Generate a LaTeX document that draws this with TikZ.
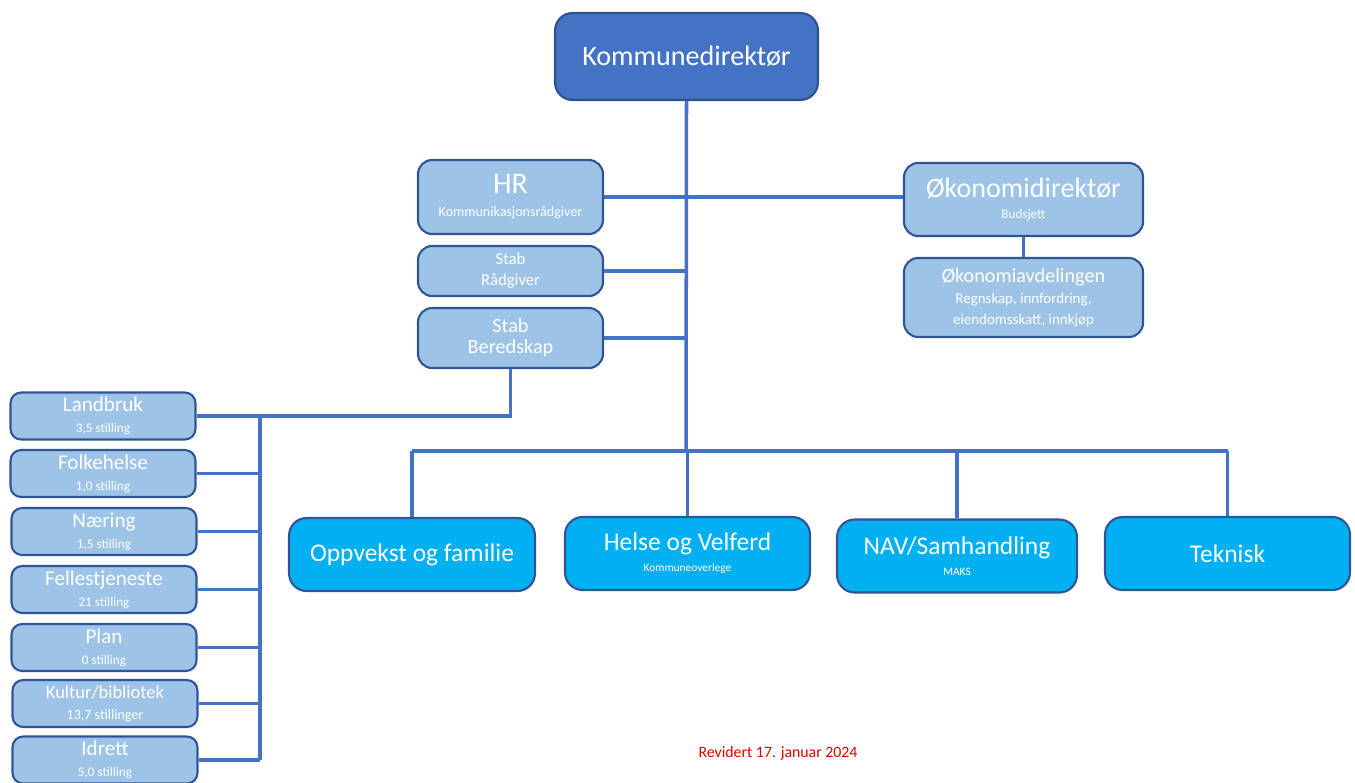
\documentclass[tikz,border=0pt]{standalone}
\usepackage{fontspec}
\setmainfont{Carlito}
\usepackage{tikz}
\usetikzlibrary{positioning}
\usetikzlibrary{calc}
\definecolor{kdblue}{HTML}{4472C4}
\definecolor{kdedge}{HTML}{2F528F}
\definecolor{lysblue}{HTML}{9DC3E6}
\definecolor{sektorblue}{HTML}{00B0F0}
\definecolor{kantblue}{HTML}{2F5597}
\definecolor{revred}{RGB}{220,0,0}
\tikzstyle{topbox}=[rectangle,draw=kdedge,line width=1.2pt,rounded corners=10pt,fill=kdblue,text=white,align=center,inner sep=2pt]
\tikzstyle{stabbox}=[rectangle,draw=kantblue,line width=1.2pt,rounded corners=8pt,fill=lysblue,text=white,align=center,inner sep=2pt]
\tikzstyle{avdbox}=[rectangle,draw=kantblue,line width=1.2pt,rounded corners=6pt,fill=lysblue,text=white,align=center,inner sep=1pt,minimum width=3.7cm,minimum height=0.94cm]
\tikzstyle{sektorbox}=[rectangle,draw=kantblue,line width=1.2pt,rounded corners=10pt,fill=sektorblue,text=white,align=center,inner sep=2pt,minimum height=1.46cm]
\tikzstyle{forb}=[draw=kdblue,line width=2pt]
\newcommand{\fs}[2]{{\fontsize{#1}{1.15\dimexpr#1pt\relax}\selectfont #2}}

\begin{document}
\begin{tikzpicture}[x=0.02cm,y=-0.02cm]
\useasboundingbox (0,0) rectangle (1355,782);

%top
\node[topbox,minimum width=5.26cm,minimum height=1.74cm] (kd) at (686.5,56.5) {\fs{16}{Kommunedirektør}};

%stab
\node[stabbox,minimum width=3.7cm,minimum height=1.48cm] (hr) at (510.5,197) {\fs{17}{HR}\\[1pt]\fs{8}{Kommunikasjonsrådgiver}};
\node[stabbox,minimum width=3.7cm,minimum height=1cm] (rad) at (510.5,271) {\fs{9.5}{Stab}\\\fs{9.5}{Rådgiver}};
\node[stabbox,minimum width=3.7cm,minimum height=1.2cm] (bered) at (510.5,338) {\fs{11.5}{Stab}\\\fs{11.5}{Beredskap}};

%okonomi
\node[stabbox,minimum width=4.78cm,minimum height=1.46cm] (okdir) at (1023.5,199.5) {\fs{16}{Økonomidirektør}\\\fs{7.5}{Budsjett}};
\node[stabbox,minimum width=4.78cm,minimum height=1.58cm] (okavd) at (1023.5,297.5) {\fs{11.5}{Økonomiavdelingen}\\\fs{8.5}{Regnskap, innfordring,}\\\fs{8.5}{eiendomsskatt, innkjøp}};

%avdelinger venstre
\node[avdbox] (land) at (103,416) {\fs{12}{Landbruk}\\\fs{7.5}{3,5 stilling}};
\node[avdbox] (folk) at (103,473.5) {\fs{12}{Folkehelse}\\\fs{7.5}{1,0 stilling}};
\node[avdbox] (naer) at (104,531.5) {\fs{12}{Næring}\\\fs{7.5}{1,5 stilling}};
\node[avdbox] (fell) at (104,589.5) {\fs{12}{Fellestjeneste}\\\fs{7.5}{21 stilling}};
\node[avdbox] (plan) at (104,647.5) {\fs{12}{Plan}\\\fs{7.5}{0 stilling}};
\node[avdbox] (kult) at (105,703.5) {\fs{10.5}{Kultur/bibliotek}\\\fs{8}{13,7 stillinger}};
\node[avdbox] (idr) at (105,760) {\fs{12}{Idrett}\\\fs{7.5}{5,0 stilling}};

%sektorer
\node[sektorbox,minimum width=4.92cm] (opp) at (412,554.5) {\fs{14.5}{Oppvekst og familie}};
\node[sektorbox,minimum width=4.9cm] (hel) at (687.5,553.5) {\fs{14.5}{Helse og Velferd}\\\fs{6.5}{Kommuneoverlege}};
\node[sektorbox,minimum width=4.8cm] (nav) at (957,556) {\fs{14.5}{NAV/Samhandling}\\\fs{6.5}{MAKS}};
\node[sektorbox,minimum width=4.9cm] (tek) at (1227.5,553.5) {\fs{14.5}{Teknisk}};

%linjer
\coordinate (bus) at (686,451);
\coordinate (lbus) at (260,416);
\draw[forb] (kd.south) -- (bus);
\draw[forb] (hr.east) -- (hr.east -| okdir.west);
\draw[forb] (okdir.south) -- (okavd.north);
\draw[forb] (rad.east) -- (rad.east -| bus);
\draw[forb] (bered.east) -- (bered.east -| bus);
\draw[forb] (opp.north |- bus) -- (tek.north |- bus);
\foreach \s in {opp,hel,nav,tek} {
\draw[forb] (\s.north |- bus) -- (\s.north);
}
\draw[forb] (bered.south) -- (bered.south |- land.east) -- (land.east);
\draw[forb] (lbus) -- (lbus |- idr.east);
\foreach \a in {folk,naer,fell,plan,kult,idr} {
\draw[forb] (\a.east) -- (\a.east -| lbus);
}

%revisjon
\node[text=revred] (rev) at (778,753) {\fs{9}{Revidert 17. januar 2024}};

\end{tikzpicture}
\end{document}
